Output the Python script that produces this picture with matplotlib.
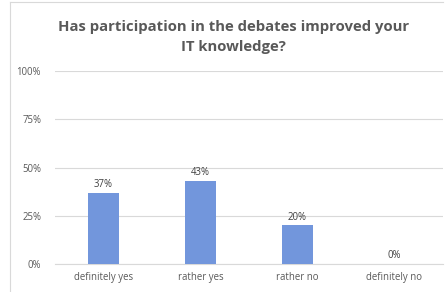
import matplotlib
matplotlib.use("Agg")
import matplotlib.pyplot as plt
from matplotlib.lines import Line2D

categories = ["definitely yes", "rather yes", "rather no", "definitely no"]
values = [37, 43, 20, 0]
yticks = [0, 25, 50, 75, 100]
ytick_labels = ["0%", "25%", "50%", "75%", "100%"]
title = "Has participation in the debates improved your\nIT knowledge?"

plt.rcParams['font.family'] = ['Open Sans', 'DejaVu Sans']

W, H = 446, 292
fig = plt.figure(figsize=(W/100, H/100), dpi=100)
fig.patch.set_facecolor('white')

# axes: x 55..443, y 71..264 (pixels from top)
ax = fig.add_axes([55/W, 1-264/H, (443-55)/W, (264-71)/H])
ax.bar(range(len(categories)), values, width=0.32, color='#7296DC', zorder=3)
ax.set_xlim(-0.5, len(categories)-0.5)
ax.set_ylim(0, 100)
ax.set_yticks(yticks)
ax.set_yticklabels(ytick_labels, fontsize=6.9, color='#595959')
ax.set_xticks(range(len(categories)))
ax.set_xticklabels(categories, fontsize=6.9, color='#595959')
ax.tick_params(axis='both', length=0)
ax.tick_params(axis='y', pad=10)
ax.tick_params(axis='x', pad=6)
ax.grid(axis='y', color='#D9D9D9', linewidth=0.8, zorder=0)
for s in ['top', 'right', 'left']:
    ax.spines[s].set_visible(False)
ax.spines['bottom'].set_color('#D9D9D9')
ax.spines['bottom'].set_linewidth(0.8)

for i, v in enumerate(values):
    ax.annotate(f"{v}%", (i, v), xytext=(0, 2), textcoords='offset points',
                ha='center', va='bottom', fontsize=6.9, color='#404040')

fig.text(233.5/W, 1-37/H, title, ha='center', va='center',
         fontsize=10.7, fontweight='bold', color='#595959', linespacing=1.6)

# chart frame
fig.add_artist(Line2D([10/W, 10/W], [0, 1-2/H], transform=fig.transFigure, color='#D9D9D9', lw=0.8))
fig.add_artist(Line2D([10/W, 443/W], [1-2/H, 1-2/H], transform=fig.transFigure, color='#D9D9D9', lw=0.8))

fig.savefig("out.png", dpi=100, facecolor='white')
